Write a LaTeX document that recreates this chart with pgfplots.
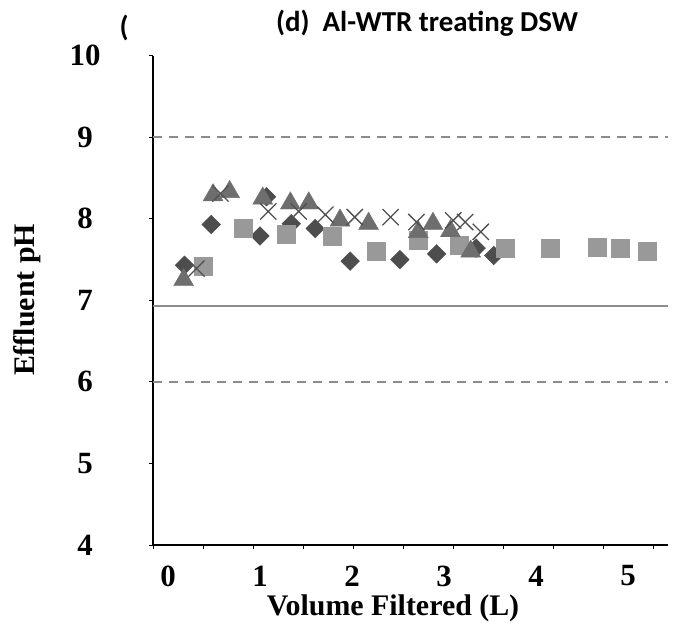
\documentclass[border=0pt]{standalone}
\usepackage{pgfplots}
\pgfplotsset{compat=1.18}
\usepackage{fontspec}
\setmainfont{Liberation Serif}
\newfontfamily\titlefont{Carlito}
\definecolor{cdia}{HTML}{4D4D4D}
\definecolor{csq}{HTML}{999999}
\definecolor{ctri}{HTML}{6E6E6E}
\definecolor{ccross}{HTML}{505050}
\definecolor{cref}{HTML}{8C8C8C}
\begin{document}
\begin{tikzpicture}[x=1bp,y=1bp]
\useasboundingbox (0,0) rectangle (675,631);
\node[font=\titlefont\bfseries\fontsize{29}{29}\selectfont] at (124,603) {(};
\begin{axis}[
  at={(153bp,86bp)}, anchor=south west,
  scale only axis, width=515bp, height=489.3bp,
  xmin=-0.163, xmax=5.435, ymin=4, ymax=10,
  axis x line=bottom, axis y line=left,
  axis line style={-, line width=1.3bp, black},
  tick align=outside, major tick length=4bp,
  tick style={black, line width=0.9bp},
  xtick={-0.163,0.380,0.924,1.467,2.011,2.554,3.098,3.641,4.185,4.728,5.272},
  xticklabels={},
  extra x ticks={0,1,2,3,4,5},
  extra x tick labels={0,1,2,3,4,5},
  extra x tick style={major tick length=0pt, xticklabel style={anchor=center, inner sep=0.5bp, yshift=-31bp}},
  ytick={4,5,6,7,8,9,10},
  yticklabel style={anchor=center, xshift=-64bp},
  /pgf/number format/assume math mode=true,
  ticklabel style={font=\bfseries\fontsize{31}{31}\selectfont},
  xlabel={Volume Filtered (L)},
  xlabel style={at={(axis description cs:0.466,-0.1285)}, anchor=center, inner sep=0.5bp, font=\bfseries\fontsize{30}{30}\selectfont},
  ylabel={Effluent pH},
  ylabel style={at={(axis description cs:-0.2446,0.5007)}, anchor=center, font=\bfseries\fontsize{30}{30}\selectfont},
  title={(d)\ \ Al-WTR treating DSW},
  title style={at={(axis description cs:0.532,1.0546)}, anchor=center, font=\titlefont\bfseries\fontsize{29}{29}\selectfont},
  clip=false,
]
\addplot[forget plot, cref, line width=2bp, dash pattern=on 9bp off 7bp] coordinates {(-0.163,9) (5.435,9)};
\addplot[forget plot, cref, line width=2bp, dash pattern=on 9bp off 7bp] coordinates {(-0.163,6) (5.435,6)};
\addplot[forget plot, cref, line width=2bp] coordinates {(-0.163,6.93) (5.435,6.93)};
% diamonds
\addplot[only marks, mark=square*, mark size=6.6bp, mark options={rotate=45, fill=cdia, draw=cdia}] coordinates {
(0.18,7.43) (0.47,7.93) (1.00,7.79) (1.07,8.27) (1.34,7.94) (1.60,7.88) (1.98,7.48) (2.52,7.50) (2.92,7.57) (3.35,7.64) (3.54,7.55)};
% squares
\addplot[only marks, mark=square*, mark size=9bp, mark options={fill=csq, draw=csq}] coordinates {
(0.38,7.42) (0.82,7.89) (1.29,7.81) (1.79,7.79) (2.26,7.60) (2.72,7.74) (3.17,7.68) (3.67,7.64) (4.15,7.64) (4.66,7.65) (4.91,7.64) (5.21,7.60)};
% triangles
\addplot[only marks, mark=triangle*, mark size=11.5bp, mark options={fill=ctri, draw=ctri}] coordinates {
(0.17,7.25) (0.49,8.29) (0.67,8.33) (1.03,8.25) (1.33,8.19) (1.53,8.19) (1.87,7.98) (2.18,7.94) (2.72,7.84) (2.88,7.94) (3.07,7.85) (3.29,7.60)};
% crosses
\addplot[only marks, mark=x, mark size=11.5bp, mark options={draw=ccross, line width=1.3bp}] coordinates {
(0.31,7.39) (0.57,8.31) (1.09,8.09) (1.42,8.09) (1.71,8.05) (2.03,8.02) (2.42,8.02) (2.70,7.96) (3.10,7.98) (3.23,7.96) (3.40,7.84)};
\end{axis}
\end{tikzpicture}
\end{document}
